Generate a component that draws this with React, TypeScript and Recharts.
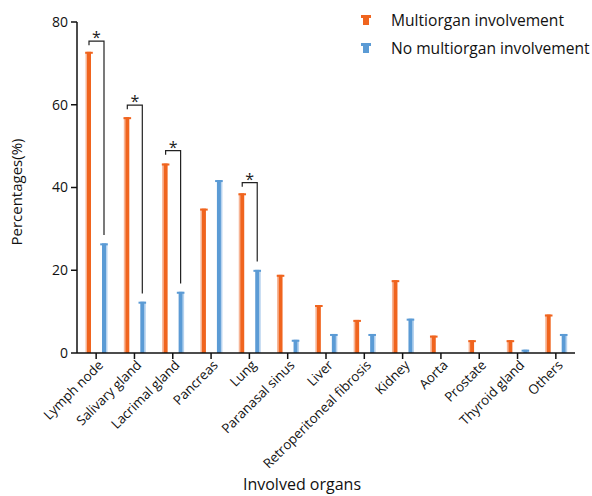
import { BarChart, Bar, XAxis, YAxis } from "recharts";

const organs = [
  "Lymph node",
  "Salivary gland",
  "Lacrimal gland",
  "Pancreas",
  "Lung",
  "Paranasal sinus",
  "Liver",
  "Retroperitoneal fibrosis",
  "Kidney",
  "Aorta",
  "Prostate",
  "Thyroid gland",
  "Others",
];
const multiorgan = [72.8, 57.0, 45.8, 34.9, 38.6, 18.9, 11.6, 8.0, 17.6, 4.2, 3.1, 3.1, 9.3];
const noMultiorgan = [26.5, 12.4, 14.8, 41.8, 20.1, 3.2, 4.6, 4.6, 8.3, 0, 0, 0.8, 4.6];
// height of the significance bracket, null = no star
const bracketTop = [75.4, 59.9, 48.9, null, 41.2, null, null, null, null, null, null, null, null];
const yTicks = [0, 20, 40, 60, 80];
const seriesNames = ["Multiorgan involvement", "No multiorgan involvement"];

const ORANGE = "#F0641E";
const BLUE = "#5B9BD5";
const FONT = "'Open Sans', sans-serif";

const data = organs.map((name, i) => ({
  name,
  multi: multiorgan[i],
  noMulti: noMultiorgan[i],
}));

function OrangeBar(props: any) {
  const { x, y, width, height } = props;
  if (!height || height <= 0) return null;
  return (
    <g>
      <rect x={x - 1.5} y={y} width={1.5} height={height} fill="#F7B596" />
      <rect x={x} y={y} width={width} height={height} fill={ORANGE} />
      <rect x={x - 1.8} y={y} width={width + 3.6} height={2} fill={ORANGE} />
    </g>
  );
}

function BlueBar(props: any) {
  const { x, y, width, height, index } = props;
  const value = noMultiorgan[index];
  const top = bracketTop[index];
  const bars =
    height > 0 ? (
      <g>
        <rect x={x + width} y={y} width={1.5} height={height} fill="#B7D3EF" />
        <rect x={x} y={y} width={width} height={height} fill={BLUE} />
        <rect x={x - 1.8} y={y} width={width + 3.6} height={2} fill={BLUE} />
      </g>
    ) : null;
  if (top == null || !value) return bars;
  const base = y + height;
  const k = height / value;
  const right = x + width / 2;
  const left = right - 15;
  const yTop = base - top * k;
  const yLeft = base - (top - 1) * k;
  const yRight = base - (value + 2) * k;
  return (
    <g>
      {bars}
      <polyline
        points={`${left},${yLeft} ${left},${yTop} ${right},${yTop} ${right},${yRight}`}
        fill="none"
        stroke="#222"
        strokeWidth={1.2}
      />
      <text x={(left + right) / 2} y={yTop + 2} textAnchor="middle" fontSize={16} fontFamily={FONT} fill="#222">
        *
      </text>
    </g>
  );
}

function OrganTick(props: any) {
  const { x, y, payload } = props;
  return (
    <g transform={`translate(${x},${y})`}>
      <text
        x={0}
        y={0}
        dy={9}
        dx={2}
        textAnchor="end"
        transform="rotate(-45)"
        fontSize={13.3}
        fontFamily={FONT}
        fill="#111"
      >
        {payload.value}
      </text>
    </g>
  );
}

function LegendBox() {
  const colors = [ORANGE, BLUE];
  return (
    <div
      style={{
        position: "absolute",
        left: 360,
        top: 6,
        fontFamily: FONT,
        fontSize: 15.6,
        color: "#111",
      }}
    >
      {seriesNames.map((name, i) => (
        <div key={name} style={{ display: "flex", alignItems: "center", height: 28, whiteSpace: "nowrap" }}>
          <svg width={12} height={12} style={{ marginRight: 19 }}>
            <rect x={1} y={1} width={10} height={3} fill={colors[i]} />
            <rect x={3} y={1} width={6} height={10} fill={colors[i]} />
          </svg>
          <span>{name}</span>
        </div>
      ))}
    </div>
  );
}

export default function App() {
  return (
    <div style={{ position: "absolute", left: 0, top: 0, width: 592, height: 496, background: "#fff" }}>
      <BarChart
        width={592}
        height={496}
        data={data}
        margin={{ top: 22, right: 17, bottom: 0, left: 0 }}
        barSize={4}
        barGap={11}
      >
        <XAxis
          dataKey="name"
          interval={0}
          height={143}
          tick={<OrganTick />}
          tickSize={6}
          axisLine={{ stroke: "#111", strokeWidth: 1.5 }}
          tickLine={{ stroke: "#111", strokeWidth: 1.5 }}
          label={() => (
            <text x={302} y={490} textAnchor="middle" fontSize={16} fontFamily={FONT} fill="#111">
              Involved organs
            </text>
          )}
        />
        <YAxis
          domain={[0, 80]}
          ticks={yTicks}
          width={77}
          tickSize={6}
          tickMargin={3}
          axisLine={{ stroke: "#111", strokeWidth: 1.5 }}
          tickLine={{ stroke: "#111", strokeWidth: 1.5 }}
          tick={{ fill: "#111", fontSize: 14, fontFamily: FONT }}
          label={() => (
            <text
              x={0}
              y={0}
              transform={`translate(22,192) rotate(-90)`}
              textAnchor="middle"
              fontSize={15}
              fontFamily={FONT}
              fill="#111"
            >
              Percentages(%)
            </text>
          )}
        />
        <Bar dataKey="multi" name={seriesNames[0]} fill={ORANGE} shape={<OrangeBar />} isAnimationActive={false} />
        <Bar dataKey="noMulti" name={seriesNames[1]} fill={BLUE} shape={<BlueBar />} isAnimationActive={false} />
      </BarChart>
      <LegendBox />
    </div>
  );
}
